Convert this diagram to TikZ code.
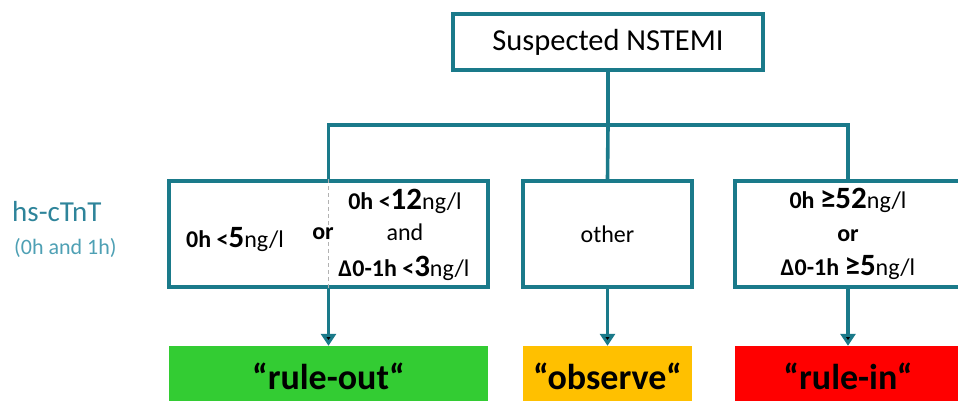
\documentclass[tikz,border=0pt]{standalone}
\usepackage{fontspec}
\setmainfont{Carlito}
\usetikzlibrary{arrows.meta}
\definecolor{tealline}{RGB}{26,122,138}
\definecolor{tealtext}{RGB}{46,132,154}
\definecolor{teallight}{RGB}{78,160,180}
\definecolor{outgreen}{RGB}{51,204,51}
\definecolor{outorange}{RGB}{255,192,0}
\definecolor{outred}{RGB}{255,0,0}
\newcommand\valnum[1]{{\fontsize{31}{33}\selectfont #1}}
\begin{document}
\begin{tikzpicture}[x=1pt, y=-1pt, >={Triangle[width=15pt,length=12pt]},
    box node/.style={draw=tealline, line width=3.4pt, fill=white, inner sep=0pt, minimum height=106pt},
    out node/.style={inner sep=0pt, minimum height=60pt, font=\bfseries\fontsize{36}{40}\selectfont},
    txt node/.style={inner sep=0pt, font=\fontsize{24}{26}\selectfont},
    link/.style={draw=tealline, line width=3.6pt}]
\useasboundingbox (0,0) rectangle (958,400);

\node[box node, minimum width=310pt, minimum height=56pt, font=\fontsize{30.5}{33}\selectfont] at (608,42) (suspected) {Suspected NSTEMI};
\coordinate (split) at (608,125);

\node[box node, minimum width=319pt] at (328.5,234) (lowbox) {};
\node[box node, minimum width=169pt, font=\fontsize{24}{26}\selectfont] at (607.5,234) (midbox) {other};
\node[box node, minimum width=226pt] at (848,234) (highbox) {};

\node[out node, fill=outgreen, minimum width=319pt] at (328.5,376) (ruleout) {“rule-out“};
\node[out node, fill=outorange, minimum width=169pt] at (607.5,376) (observe) {“observe“};
\node[out node, fill=outred, minimum width=226pt] at (848,376) (rulein) {“rule-in“};

% label on the left
\node[anchor=west, inner sep=0pt, text=tealtext, font=\fontsize{29}{31}\selectfont] at (12,212) (assay) {hs-cTnT};
\node[anchor=west, inner sep=0pt, text=teallight, font=\fontsize{22}{24}\selectfont] at (14,248) (times) {(0h and 1h)};

% rule-out criteria
\draw[gray!60, line width=1.4pt, dash pattern=on 4pt off 3pt] (lowbox.north) -- (lowbox.south);
\node[txt node] at (235,240) (lowzero) {\textbf{0h <\valnum{5}}ng/l};
\node[txt node, font=\bfseries\fontsize{24}{26}\selectfont] at (323,234) (lowor) {or};
\node[txt node] at (405,201) (lowtwelve) {\textbf{0h <\valnum{12}}ng/l};
\node[txt node] at (405,232) (lowand) {and};
\node[txt node] at (404,268) (lowdelta) {\textbf{Δ0-1h <\valnum{3}}ng/l};

% rule-in criteria
\node[txt node] at (848,200) (highzero) {\textbf{0h \valnum{≥52}}ng/l};
\node[txt node, font=\bfseries\fontsize{24}{26}\selectfont] at (848,236) (highor) {or};
\node[txt node] at (848,268) (highdelta) {\textbf{Δ0-1h \valnum{≥5}}ng/l};

\path[link] (suspected) -- (split);
\path[link] (split) -| (lowbox.north);
\path[link] (split) -- (midbox.north);
\path[link] (split) -| (highbox.north);

\path[link, ->] (lowbox) edge (ruleout);
\path[link, ->] (midbox) edge (observe);
\path[link, ->] (highbox) edge (rulein);
\end{tikzpicture}
\end{document}
